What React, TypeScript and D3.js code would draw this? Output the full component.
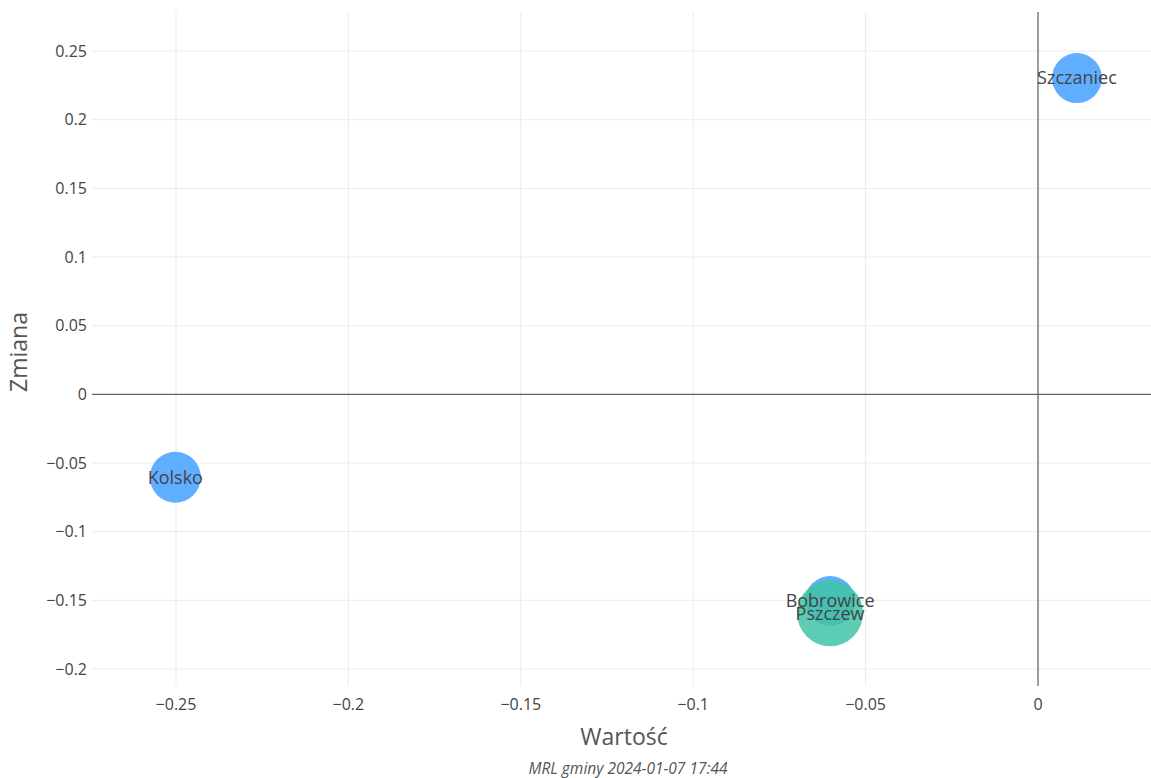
import React from "react";
import * as d3 from "d3";

const names = ["Szczaniec", "Kolsko", "Bobrowice", "Pszczew"];
const xValues = [0.0113, -0.2502, -0.0603, -0.0603];
const yValues = [0.2303, -0.0604, -0.1505, -0.1594];
const sizes = [25, 25.5, 25, 33];
const colors = ["#57aaff", "#57aaff", "#57aaff", "#3fc4a6"];
const opacities = [0.95, 0.95, 0.95, 0.85];
const xTicks = [-0.25, -0.2, -0.15, -0.1, -0.05, 0];
const yTicks = [-0.2, -0.15, -0.1, -0.05, 0, 0.05, 0.1, 0.15, 0.2, 0.25];

const W = 1151, H = 778;
const M = { left: 92, right: 1151, top: 12, bottom: 686 };

export default function App() {
  const x = d3.scaleLinear().domain([-0.25, 0]).range([176, 1038]);
  const y = d3.scaleLinear().domain([0.25, -0.2]).range([51, 669]);
  const fmt = (v: number) => (v === 0 ? "0" : (v < 0 ? "\u2212" : "") + d3.format("")(Math.abs(+v.toFixed(2))));
  const font = "'Open Sans', sans-serif";
  return (
    <svg width={W} height={H} style={{ position: "absolute", left: 0, top: 0 }} fontFamily={font}>
      <rect width={W} height={H} fill="#fff" />
      {xTicks.map((t) => (
        <line key={"gx" + t} x1={x(t)} x2={x(t)} y1={M.top} y2={M.bottom} stroke="#ebebeb" strokeWidth={1} />
      ))}
      {yTicks.map((t) => (
        <line key={"gy" + t} x1={M.left} x2={M.right} y1={y(t)} y2={y(t)} stroke="#ebebeb" strokeWidth={1} />
      ))}
      <line x1={M.left} x2={M.right} y1={y(0)} y2={y(0)} stroke="#444" strokeWidth={1} />
      <line x1={x(0)} x2={x(0)} y1={M.top} y2={M.bottom} stroke="#444" strokeWidth={1} />
      {xTicks.map((t) => (
        <text key={"tx" + t} x={x(t)} y={710} textAnchor="middle" fontSize={16} fill="#444">{fmt(t)}</text>
      ))}
      {yTicks.map((t) => (
        <text key={"ty" + t} x={87} y={y(t)} dy="0.35em" textAnchor="end" fontSize={16} fill="#444">{fmt(t)}</text>
      ))}
      <text x={624} y={745} textAnchor="middle" fontSize={23} fill="#555">Wartość</text>
      <text transform={`translate(27,352) rotate(-90)`} textAnchor="middle" fontSize={23} fill="#555">Zmiana</text>
      <text x={628} y={774} textAnchor="middle" fontSize={15.5} fontStyle="italic" fill="#555">MRL gminy 2024-01-07 17:44</text>
      {names.map((n, i) => (
        <circle key={"c" + n} cx={x(xValues[i])} cy={y(yValues[i])} r={sizes[i]} fill={colors[i]} fillOpacity={opacities[i]} />
      ))}
      {names.map((n, i) => (
        <text key={"l" + n} x={x(xValues[i])} y={y(yValues[i])} dy="0.35em" textAnchor="middle" fontSize={18} fill="#444">{n}</text>
      ))}
    </svg>
  );
}
